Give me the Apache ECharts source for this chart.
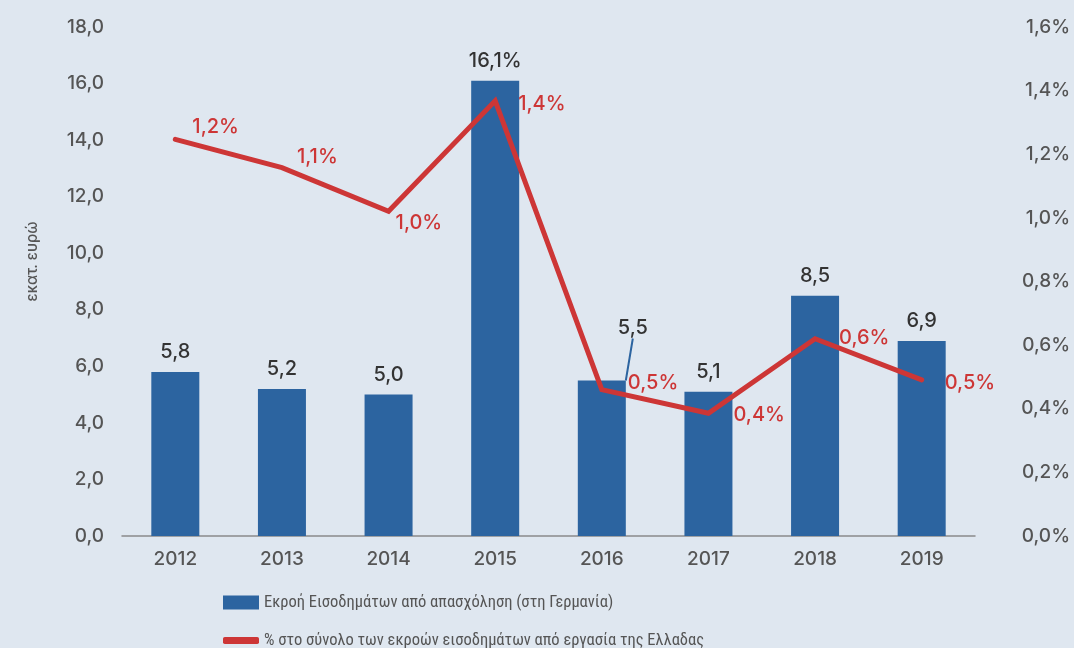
<!DOCTYPE html>
<html>
<head>
<meta charset="utf-8">
<script src="https://cdn.jsdelivr.net/npm/echarts@6/dist/echarts.min.js"></script>
<style>
html,body{margin:0;padding:0;background:#dfe7f0;}
#chart{width:1074px;height:648px;}
</style>
</head>
<body>
<div id="chart"></div>
<script>
// ---- data ----
var categories = ['2012','2013','2014','2015','2016','2017','2018','2019'];
var barValues = [5.8, 5.2, 5.0, 16.1, 5.5, 5.1, 8.5, 6.9];
var barLabels = ['5,8','5,2','5,0','16,1%','5,5','5,1','8,5','6,9'];
var lineValues = [1.247, 1.158, 1.021, 1.368, 0.460, 0.386, 0.620, 0.491];
var lineLabels = ['1,2%','1,1%','1,0%','1,4%','0,5%','0,4%','0,6%','0,5%'];
var barName = 'Εκροή Εισοδημάτων από απασχόληση (στη Γερμανία)';
var lineName = '% στο σύνολο των εκροών εισοδημάτων από εργασία της Ελλαδας';

// ---- styling (label placements) ----
var lineLabelOffsets = [[12,-12],[10,-11],[2,12],[18,3],[21,-7],[20,2],[19,-1],[18,3]];
var leaderIndex = 4;

var FONT = 'Inter, "Open Sans", sans-serif';
var LFONT = '"Liberation Sans Narrow", "Roboto Condensed", "DejaVu Sans Condensed", sans-serif';
var FW = 500;
var RED = '#cd3636', BLUE = '#2c64a0', GREY = '#555';
var chart = echarts.init(document.getElementById('chart'));
chart.setOption({
  backgroundColor: '#dfe7f0',
  textStyle: { fontFamily: FONT },
  animation: false,
  grid: { left: 122, right: 99, top: 27, bottom: 112, outerBoundsMode: 'none', containLabel: false },
  legend: [{
    left: 218, top: 589,
    itemWidth: 36, itemHeight: 14, itemGap: 10,
    textStyle: { fontSize: 16.5, color: GREY, fontFamily: LFONT },
    data: [{ name: barName, icon: 'rect' }]
  }, {
    left: 218, top: 627,
    itemWidth: 36, itemHeight: 7,
    textStyle: { fontSize: 16.5, color: GREY, fontFamily: LFONT },
    data: [{ name: lineName, icon: 'roundRect', itemStyle: { color: RED } }]
  }],
  xAxis: {
    type: 'category',
    data: categories,
    axisLine: { lineStyle: { color: '#8a8a8a', width: 1.5 } },
    axisTick: { show: false },
    axisLabel: { color: GREY, fontSize: 19, margin: 14, fontFamily: FONT, fontWeight: FW }
  },
  yAxis: [{
    type: 'value', min: 0, max: 18, interval: 2,
    name: 'εκατ. ευρώ', nameLocation: 'middle', nameGap: 82,
    nameTextStyle: { color: GREY, fontSize: 15, fontFamily: FONT, fontWeight: FW, padding: [0,0,0,40] },
    splitLine: { show: false },
    axisLine: { show: false }, axisTick: { show: false },
    axisLabel: { color: GREY, fontSize: 19, margin: 18, fontFamily: FONT, fontWeight: FW,
      formatter: function (v) { return v.toFixed(1).replace('.', ','); } }
  }, {
    type: 'value', min: 0, max: 1.6, interval: 0.2,
    splitLine: { show: false },
    axisLine: { show: false }, axisTick: { show: false },
    axisLabel: { color: GREY, fontSize: 19, margin: 95, align: 'right', fontFamily: FONT, fontWeight: FW,
      formatter: function (v) { return v.toFixed(1).replace('.', ',') + '%'; } }
  }],
  series: [{
    name: barName,
    type: 'bar',
    barWidth: 48,
    itemStyle: { color: BLUE },
    data: barValues.map(function (v, i) {
      return i === leaderIndex
        ? { value: v, labelLine: { show: true, lineStyle: { color: BLUE, width: 2 } } }
        : { value: v };
    }),
    label: {
      show: true, position: 'top', distance: 10,
      color: '#333', fontSize: 20, fontFamily: FONT, fontWeight: FW,
      formatter: function (p) { return barLabels[p.dataIndex]; }
    },
    labelLine: { show: false },
    labelLayout: function (p) {
      if (p.dataIndex === leaderIndex) { return { dx: 31, dy: -32 }; }
      return {};
    },
    z: 2
  }, {
    name: lineName,
    type: 'line',
    yAxisIndex: 1,
    symbol: 'circle',
    symbolSize: 0.1,
    showSymbol: true,
    lineStyle: { color: RED, width: 5, cap: 'round', join: 'miter' },
    itemStyle: { color: RED },
    data: lineValues.map(function (v, i) {
      return { value: v, label: { offset: lineLabelOffsets[i] } };
    }),
    label: {
      show: true, position: 'right', distance: 5,
      color: RED, fontSize: 20, fontFamily: FONT, fontWeight: FW,
      formatter: function (p) { return lineLabels[p.dataIndex]; }
    },
    z: 3
  }]
});
</script>
</body>
</html>
